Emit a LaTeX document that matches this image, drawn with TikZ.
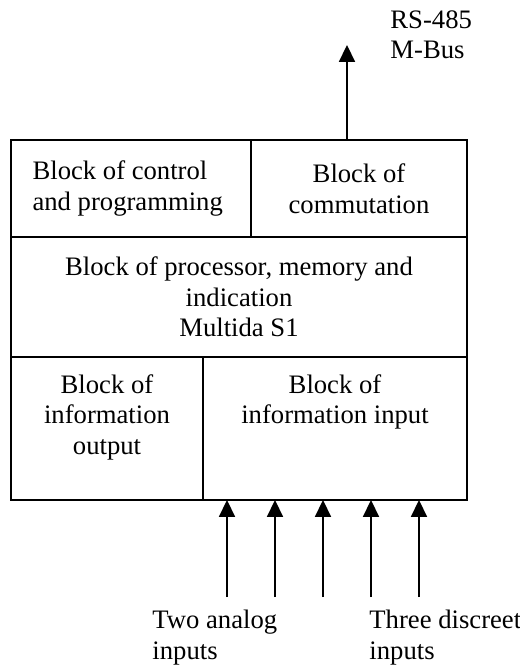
\documentclass[tikz,border=0pt]{standalone}
\usepackage{fontspec}
\setmainfont{Liberation Serif}
\usetikzlibrary{positioning}
\usetikzlibrary{arrows.meta}
\tikzstyle{cellbox} = [draw=black, line width=0.8pt, rectangle, inner sep=0pt, outer sep=0pt]
\tikzstyle{celltext} = [inner sep=0pt, font=\fontsize{12}{13.8}\selectfont]
\tikzstyle{sigarrow} = [line width=0.8pt, -{Triangle[width=7.2pt,length=7.6pt]}]

\begin{document}
\begin{tikzpicture}[x=0.45pt, y=-0.45pt]
\useasboundingbox (0,0) rectangle (520,666);
\node [cellbox, anchor=north west, minimum width=108pt, minimum height=43.65pt] (ctrl) at (11,140) {};
\node [cellbox, anchor=north west, minimum width=97.2pt, minimum height=43.65pt] (comm) at (ctrl.north east) {};
\node [cellbox, anchor=north west, minimum width=205.2pt, minimum height=54pt] (proc) at (ctrl.south west) {};
\node [cellbox, anchor=north west, minimum width=86.4pt, minimum height=64.35pt] (outp) at (proc.south west) {};
\node [cellbox, anchor=north west, minimum width=118.8pt, minimum height=64.35pt] (inp) at (outp.north east) {};

\node [celltext, align=left, right=9.5pt of ctrl.west] (ctrltext) {Block of control\\and programming};
\node [celltext, align=center] (commtext) at (comm) {Block of\\commutation};
\node [celltext, align=center] (proctext) at (proc) {Block of processor, memory and\\indication\\Multida S1};
\node [celltext, align=center, below=7.6pt of outp.north] (outptext) {Block of\\information\\output};
\node [celltext, align=center, below=7.6pt of inp.north] (inptext) {Block of\\information input};

\coordinate (busend) at (347,45);
\draw [sigarrow] (busend |- comm.north) -- (busend);
\node [celltext, align=left, anchor=north west] (bus) at (390,10) {RS-485\\M-Bus};

\foreach \x [count=\i] in {227,275,323,371,419} {
    \coordinate (in\i) at (\x,597);
    \draw [sigarrow] (in\i) -- (in\i |- inp.south);
}
\node [celltext, align=left, anchor=north west] (analog) at (152,610) {Two analog\\inputs};
\node [celltext, align=left, anchor=north west] (discreet) at (369,610) {Three discreet\\inputs};
\end{tikzpicture}
\end{document}
